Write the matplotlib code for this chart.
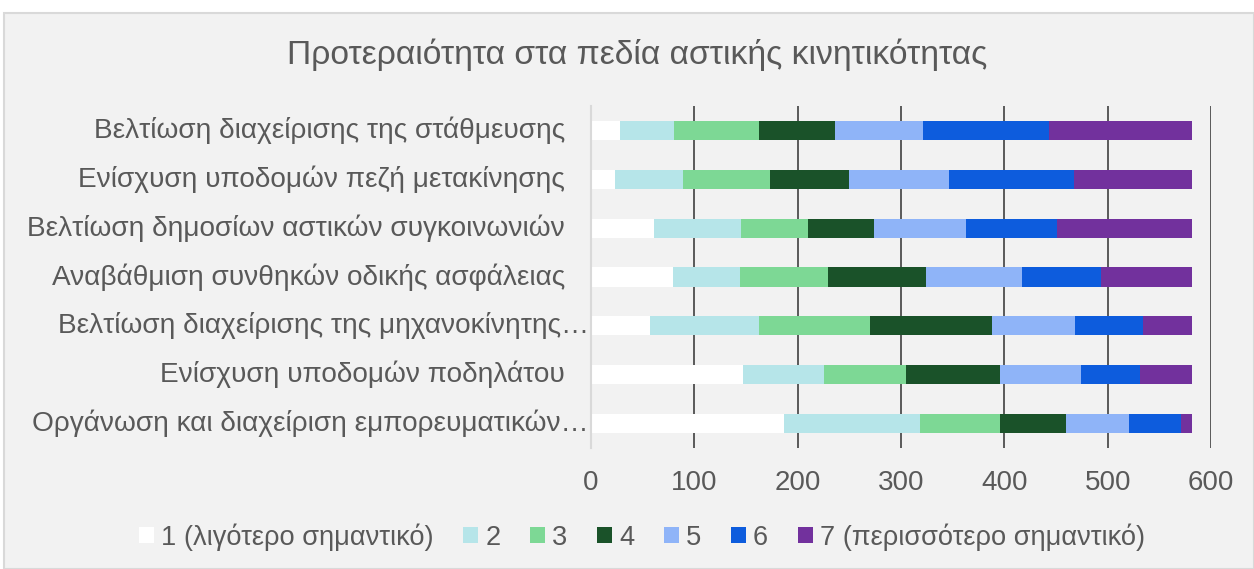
# stacked bar chart of mobility priorities
import matplotlib
matplotlib.use('Agg')
import matplotlib.pyplot as plt
import matplotlib.transforms as mtransforms
from matplotlib.patches import Rectangle
import numpy as np

plt.rcParams['font.family'] = ['Liberation Sans', 'DejaVu Sans']

# data
categories = ['Βελτίωση διαχείρισης της στάθμευσης',
              'Ενίσχυση υποδομών πεζή μετακίνησης',
              'Βελτίωση δημοσίων αστικών συγκοινωνιών',
              'Αναβάθμιση συνθηκών οδικής ασφάλειας',
              'Βελτίωση διαχείρισης της μηχανοκίνητης…',
              'Ενίσχυση υποδομών ποδηλάτου',
              'Οργάνωση και διαχείριση εμπορευματικών…']
truncated = [False, False, False, False, True, False, True]

series_names = ['1 (λιγότερο σημαντικό)', '2', '3', '4', '5', '6',
                '7 (περισσότερο σημαντικό)']
s1 = [28, 23, 61, 79, 57, 147, 187]
s2 = [52, 66, 84, 65, 106, 78, 131]
s3 = [83, 84, 65, 85, 107, 80, 78]
s4 = [73, 77, 64, 95, 118, 91, 64]
s5 = [85, 96, 89, 93, 80, 78, 61]
s6 = [122, 121, 88, 77, 66, 57, 50]
s7 = [139, 115, 131, 88, 48, 51, 11]
series = [s1, s2, s3, s4, s5, s6, s7]
colors = ['#ffffff', '#b6e5e9', '#7dd895', '#1a5229', '#8fb4f8', '#0d5cdd', '#72319d']

xticks = [0, 100, 200, 300, 400, 500, 600]

txt = '#595959'

fig = plt.figure(figsize=(12.54, 5.69), dpi=100)
fig.patch.set_facecolor('white')
# chart area background
fig.patches.append(Rectangle((4/1254, 0), 1 - 4/1254, 1 - 13/569,
                             transform=fig.transFigure, facecolor='#f2f2f2',
                             edgecolor='#d9d9d9', linewidth=1.5, zorder=-10))

ax = fig.add_axes([591/1254, 1 - 448/569, 620/1254, 342/569])
ax.set_facecolor('none')

y = np.arange(len(categories))
left = np.zeros(len(categories))
for vals, name, c in zip(series, series_names, colors):
    ax.barh(y, vals, left=left, height=0.39, color=c, label=name, linewidth=0)
    left += np.array(vals)

ax.set_xlim(0, 600)
ax.set_ylim(len(categories) - 0.5, -0.5)
ax.set_xticks(xticks)
ax.set_xticklabels([str(t) for t in xticks], fontsize=20, color=txt)
ax.tick_params(axis='x', length=0, pad=16)
ax.set_yticks([])

# gridlines behind bars
ax.set_axisbelow(True)
for t in xticks[1:]:
    ax.axvline(t, color='#595959', linewidth=1.4, zorder=0)

for s in ['top', 'right', 'bottom']:
    ax.spines[s].set_visible(False)
ax.spines['left'].set_color('#d9d9d9')
ax.spines['left'].set_linewidth(1.5)

# category labels
trans = mtransforms.blended_transform_factory(ax.transAxes, ax.transData)
for i, (lab, tr) in enumerate(zip(categories, truncated)):
    off = -2 if tr else -26
    ax.text(0, i, lab, ha='right', va='center', fontsize=20.2, color=txt,
            transform=mtransforms.offset_copy(trans, fig=fig, x=off, y=0, units='dots'))

fig.text(637/1254, 1 - 55/569, 'Προτεραιότητα στα πεδία αστικής κινητικότητας',
         ha='center', va='center', fontsize=24.2, color=txt)

leg = fig.legend(loc='center', bbox_to_anchor=(642/1254, 1 - 537/569), ncol=7,
                 frameon=False, fontsize=19.6, handlelength=0.55, handleheight=0.55,
                 handletextpad=0.25, columnspacing=1.1)
for t in leg.get_texts():
    t.set_color(txt)

plt.savefig('out.png', dpi=100, facecolor=fig.get_facecolor())
